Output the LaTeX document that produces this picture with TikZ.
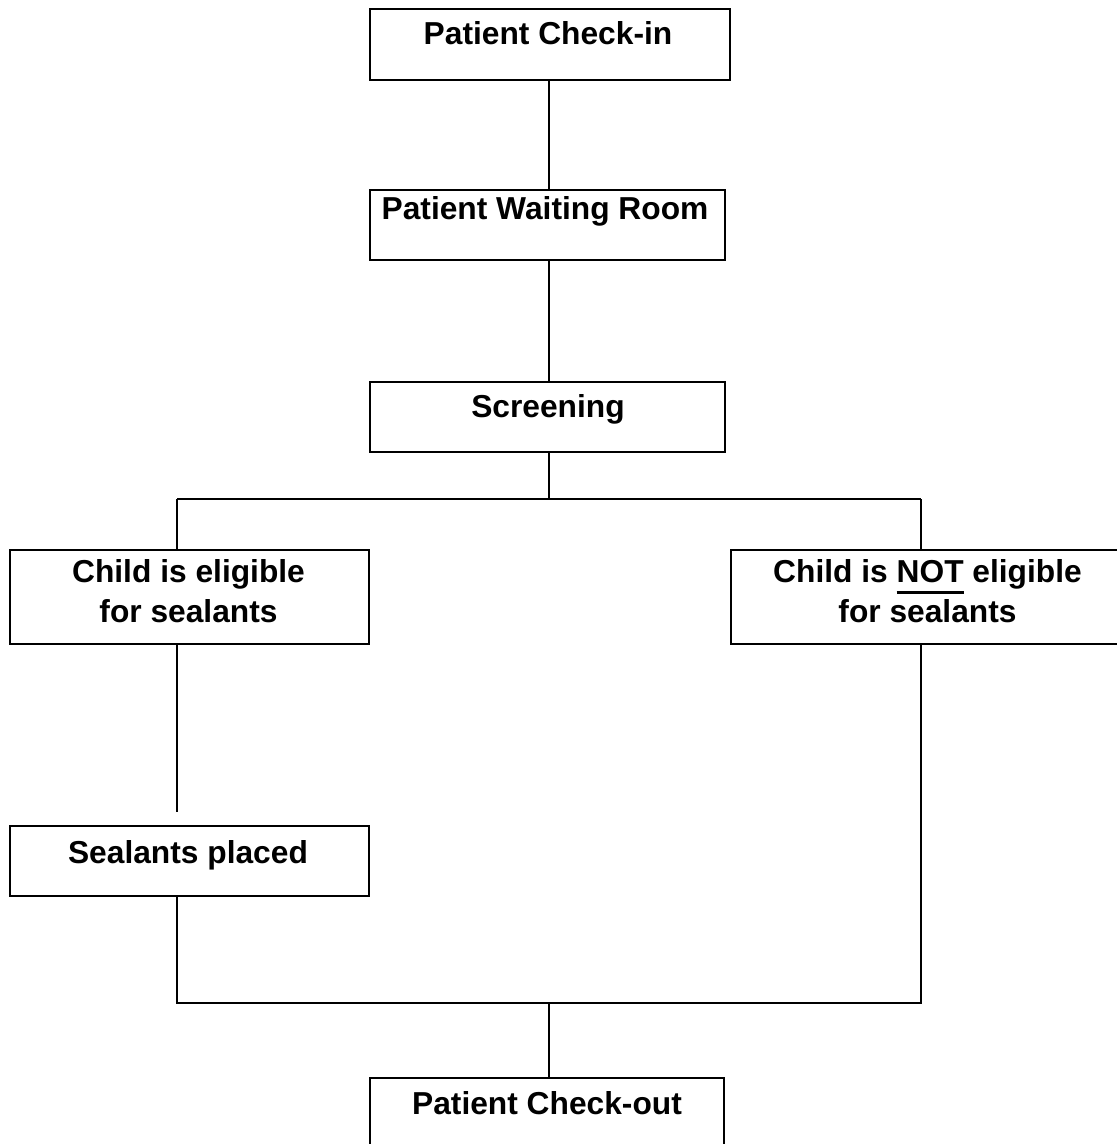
\documentclass[tikz,border=0pt]{standalone}
\usepackage{fontspec}
\setmainfont{Liberation Sans}
\newcommand\thickul[1]{{\setbox0\hbox{#1}\rlap{\raisebox{-8.8pt}{\rule{\wd0}{2.3pt}}}\box0}}
\begin{document}
\begin{tikzpicture}[x=0.75pt,y=-0.75pt,
  box/.style={draw, line width=1.4pt, rectangle, anchor=north west, inner sep=0pt},
  lbl/.style={anchor=base, inner sep=0pt, font=\fontsize{23.8pt}{30pt}\selectfont\bfseries, align=center},
  conn/.style={line width=1.1pt}]
\useasboundingbox (0,0) rectangle (1116,1144);
% boxes
\node[box, minimum width=360*0.75pt, minimum height=71*0.75pt] (b1) at (369,8) {};
\node[box, minimum width=355*0.75pt, minimum height=70*0.75pt] (b2) at (369,189) {};
\node[box, minimum width=355*0.75pt, minimum height=70*0.75pt] (b3) at (369,381) {};
\node[box, minimum width=359*0.75pt, minimum height=94*0.75pt] (b4) at (9,549) {};
\node[box, minimum width=395*0.75pt, minimum height=94*0.75pt] (b5) at (730,549) {};
\node[box, minimum width=359*0.75pt, minimum height=70*0.75pt] (b6) at (9,825) {};
\node[box, minimum width=354*0.75pt, minimum height=90*0.75pt] (b7) at (369,1077) {};
% labels
\node[lbl] (t1) at (548,45) {Patient Check-in};
\node[lbl] (t2) at (545,220) {Patient Waiting Room};
\node[lbl] (t3) at (548,417) {Screening};
\node[lbl] (t4a) at (188.5,582) {Child is eligible};
\node[lbl] (t4b) at (188.5,622) {for sealants};
\node[lbl] (t5a) at (927.5,582) {Child is \thickul{NOT} eligible};
\node[lbl] (t5b) at (927.5,622) {for sealants};
\node[lbl] (t6) at (188,863) {Sealants placed};
\node[lbl] (t7) at (547,1114) {Patient Check-out};
% junction coordinates
\coordinate (split) at (549,499);
\coordinate (splitL) at (177,499);
\coordinate (splitR) at (921,499);
\coordinate (endL) at (177,812);
\coordinate (joinL) at (177,1003);
\coordinate (joinR) at (921,1003);
\coordinate (join) at (549,1003);
% connectors
\draw[conn] (b1.south -| split) -- (b2.north -| split);
\draw[conn] (b2.south -| split) -- (b3.north -| split);
\draw[conn] (b3.south -| split) -- (split);
\draw[conn] (splitL) -- (splitR);
\draw[conn] (splitL) -- (b4.north -| splitL);
\draw[conn] (splitR) -- (b5.north -| splitR);
\draw[conn] (b4.south -| splitL) -- (endL);
\draw[conn] (b6.south -| joinL) -- (joinL) -- (joinR) -- (b5.south -| joinR);
\draw[conn] (join) -- (b7.north -| join);
\end{tikzpicture}
\end{document}
